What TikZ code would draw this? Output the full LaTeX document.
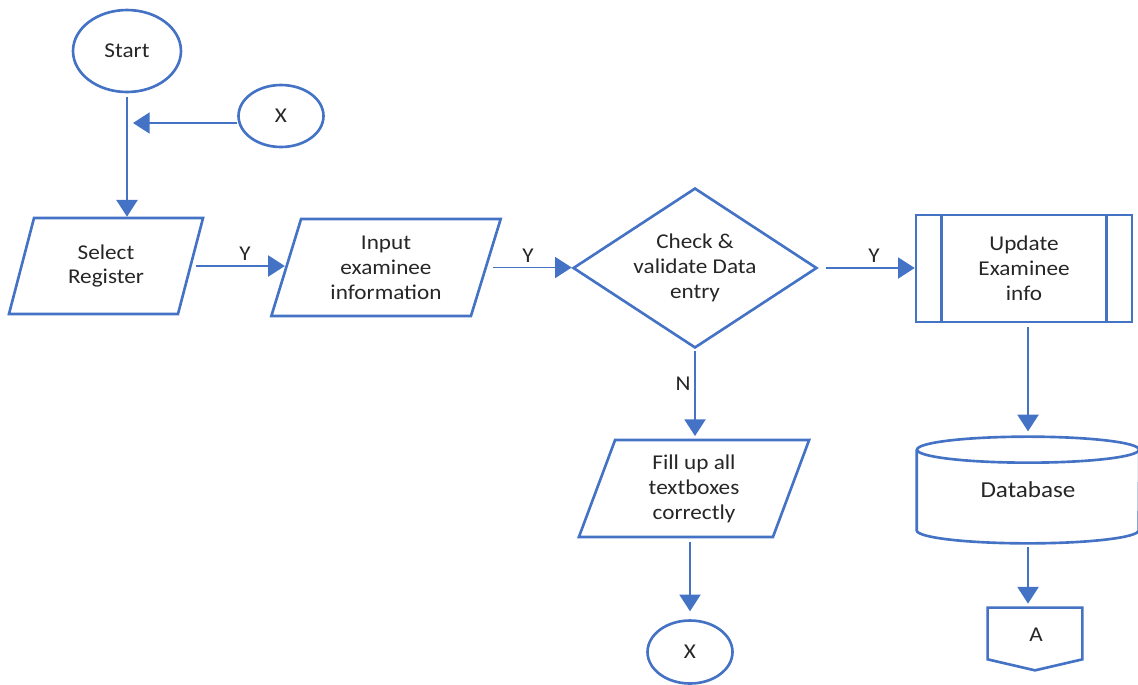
\documentclass[tikz,border=0pt]{standalone}
\usepackage{fontspec}
\setmainfont{Carlito}[FakeStretch=1.1]
\usetikzlibrary{shapes.geometric,arrows.meta}
\definecolor{fblue}{HTML}{4472C4}
\definecolor{ftext}{HTML}{262626}

\begin{document}
\begin{tikzpicture}[x=0.02cm,y=-0.02cm,
  every node/.style={text=ftext, font=\fontsize{12}{14.2}\selectfont, align=center, inner sep=0pt},
  shapeline/.style={draw=fblue, line width=1.5pt},
  term/.style={shapeline, ellipse},
  io/.style={shapeline, trapezium, trapezium left angle=73, trapezium right angle=107,
             trapezium stretches=true},
  flow/.style={draw=fblue, line width=1pt, -{Triangle[length=9.5pt,width=12pt]}},
  lbl/.style={font=\fontsize{12}{14}\selectfont}
]
\useasboundingbox (0,0) rectangle (1138,684);

% terminators and connectors
\node[term, minimum width=2.16cm, minimum height=1.64cm] (start) at (127,51) {Start};
\node[term, minimum width=1.70cm, minimum height=1.24cm] (xa) at (281,116) {X};
\node[term, minimum width=1.70cm, minimum height=1.26cm] (xb) at (690,652) {X};

% input / output steps
\node[io, minimum width=3.90cm, minimum height=1.92cm] (sel) at (106,266) {Select\\Register};
\node[io, minimum width=4.60cm, minimum height=1.94cm] (inp) at (386,267.5) {Input\\examinee\\information};
\node[io, minimum width=4.64cm, minimum height=1.94cm] (fill) at (694,488.5) {Fill up all\\textboxes\\correctly};

% decision
\node[shapeline, diamond, aspect=1.5, minimum width=4.88cm, minimum height=3.2cm] (dia) at (695,268)
  {Check \&\\validate Data\\entry};

% predefined process
\node[shapeline, rectangle, minimum width=4.32cm, minimum height=2.14cm] (upd) at (1024,268.5)
  {Update\\Examinee\\info};
\draw[shapeline] ([xshift=0.54cm]upd.north west) -- ([xshift=0.54cm]upd.south west);
\draw[shapeline] ([xshift=-0.54cm]upd.north east) -- ([xshift=-0.54cm]upd.south east);

% database cylinder
\node[minimum width=4.44cm, minimum height=2.12cm] (db) at (1028,490) {\fontsize{13}{15}\selectfont Database};
\draw[shapeline] ([yshift=-0.26cm]db.north west) -- ([yshift=0.26cm]db.south west)
  arc[start angle=180, end angle=360, x radius=2.22cm, y radius=0.26cm]
  -- ([yshift=-0.26cm]db.north east);
\draw[shapeline] ([yshift=-0.26cm]db.north) ellipse[x radius=2.22cm, y radius=0.26cm];

% off-page connector
\node[minimum width=1.88cm, minimum height=1.24cm] (pa) at (1035,639) {};
\node (palbl) at (1036,635) {A};
\draw[shapeline] (pa.north west) -- (pa.north east) -- ([yshift=0.22cm]pa.south east)
  -- (pa.south) -- ([yshift=0.22cm]pa.south west) -- cycle;

% flow lines
\coordinate (join) at (133,123);
\draw[flow, shorten <=2pt] (start.south) -- (start.south |- sel.north);
\draw[flow] (xa.west |- join) -- (join);
\draw[flow, shorten <=2.3pt] (sel.east) -- (sel.east -| inp.west);
\draw[flow, shorten <=3.4pt] (inp.east) -- (inp.east -| dia.west);
\draw[flow, shorten <=4.5pt] (dia.east) -- (dia.east -| upd.west);
\draw[flow, shorten <=1pt, shorten >=1.5pt] (dia.south) -- (dia.south |- fill.north);
\draw[flow, shorten <=2pt, shorten >=4.5pt] (xb.north |- fill.south) -- (xb.north);
\draw[flow, shorten <=2pt, shorten >=3pt] (db.north |- upd.south) -- (db.north);
\draw[flow, shorten <=2pt, shorten >=2.3pt] (db.south) -- (db.south |- pa.north);

% branch labels
\node[lbl] (ly1) at (245,254) {Y};
\node[lbl] (ly2) at (528,256) {Y};
\node[lbl] (ly3) at (874,256) {Y};
\node[lbl] (ln) at (683,384) {N};
\end{tikzpicture}
\end{document}
